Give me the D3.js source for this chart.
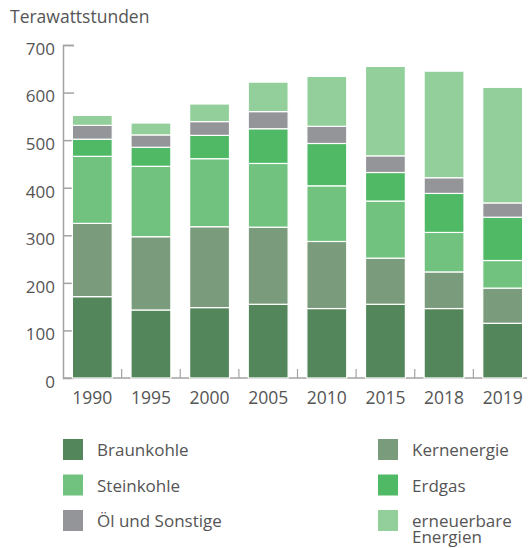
<!DOCTYPE html>
<html>
<head>
<meta charset="utf-8">
<script src="https://cdn.jsdelivr.net/npm/d3@7"></script>
<style>
  body { margin: 0; background: #fff; }
  svg text { font-family: "Open Sans", sans-serif; fill: #555; }
</style>
</head>
<body>
<div id="chart"></div>
<script>
// Bruttostromerzeugung in TWh
const years = ['1990', '1995', '2000', '2005', '2010', '2015', '2018', '2019'];
const braunkohle = [171, 143, 148, 155, 146, 155, 146, 115];
const kernenergie = [154, 154, 170, 162, 141, 97, 77, 74];
const steinkohle = [141, 148, 143, 134, 117, 120, 83, 58];
const erdgas = [36, 40, 49, 73, 89, 60, 82, 91];
const oelSonstige = [29, 26, 29, 36, 36, 35, 33, 30];
const erneuerbare = [21, 25, 37, 62, 105, 188, 224, 243];
const yTicks = [0, 100, 200, 300, 400, 500, 600, 700];

const series = [
  {key: 'braunkohle', name: 'Braunkohle', values: braunkohle, color: '#53875b'},
  {key: 'kernenergie', name: 'Kernenergie', values: kernenergie, color: '#7b9c7c'},
  {key: 'steinkohle', name: 'Steinkohle', values: steinkohle, color: '#70c27e'},
  {key: 'erdgas', name: 'Erdgas', values: erdgas, color: '#50b966'},
  {key: 'oel', name: 'Öl und Sonstige', values: oelSonstige, color: '#939598'},
  {key: 'ee', name: ['erneuerbare', 'Energien'], values: erneuerbare, color: '#92cf9a'}
];

const totalWidth = 528, totalHeight = 548;
const margins = {left: 63, right: -4, top: 45, bottom: 170};

const svg = d3.select('#chart').append('svg')
  .attr('width', totalWidth)
  .attr('height', totalHeight);

const table = years.map((y, i) => {
  let row = {year: y};
  series.forEach(s => { row[s.key] = s.values[i]; });
  return row;
});
const stacked = d3.stack().keys(series.map(s => s.key))(table);

const x = d3.scaleBand()
  .domain(years)
  .range([margins.left, totalWidth - margins.right])
  .paddingInner(0.32)
  .paddingOuter(0.16);
const y = d3.scaleLinear()
  .domain([0, 700])
  .range([totalHeight - margins.bottom, margins.top]);

// unit label
svg.append('text')
  .attr('x', 10)
  .attr('y', 23)
  .style('font-size', '17.5px')
  .text('Terawattstunden');

// y axis
const yAxis = svg.append('g')
  .attr('transform', 'translate(' + [margins.left, 0] + ')')
  .call(d3.axisRight(y).tickValues(yTicks).tickSize(11).tickFormat(d3.format('d')));
yAxis.select('.domain').attr('stroke', '#a3a3a3').attr('stroke-width', 1.5);
yAxis.selectAll('.tick line').attr('stroke', '#a3a3a3').attr('stroke-width', 1.5);
yAxis.selectAll('.tick text')
  .attr('x', -8)
  .attr('dy', '0.55em')
  .attr('text-anchor', 'end')
  .style('font-size', '17px');
yAxis.selectAll('.tick').filter(d => d === 0).select('line').remove();

// x baseline with ticks between the bars
const base = svg.append('g').attr('class', 'x-base');
base.append('line')
  .attr('x1', margins.left)
  .attr('x2', totalWidth - 1)
  .attr('y1', y(0))
  .attr('y2', y(0))
  .attr('stroke', '#a3a3a3')
  .attr('stroke-width', 1.5);
base.selectAll('line.sep')
  .data(years.slice(1))
  .enter()
  .append('line')
  .attr('class', 'sep')
  .attr('x1', d => x(d) - x.step() * x.paddingInner() / 2)
  .attr('x2', d => x(d) - x.step() * x.paddingInner() / 2)
  .attr('y1', y(0))
  .attr('y2', y(0) - 9)
  .attr('stroke', '#a3a3a3')
  .attr('stroke-width', 1.2);

// bars
const layers = svg.append('g').attr('class', 'bars')
  .selectAll('g.layer')
  .data(stacked)
  .enter()
  .append('g')
  .attr('class', 'layer')
  .style('fill', (d, i) => series[i].color);

layers.selectAll('rect')
  .data(d => d)
  .enter()
  .append('rect')
  .attr('x', d => x(d.data.year))
  .attr('width', x.bandwidth())
  .attr('y', d => y(d[1]))
  .attr('height', d => y(d[0]) - y(d[1]))
  .attr('stroke', '#fff')
  .attr('stroke-width', 1.2);

// x labels
svg.append('g').selectAll('text')
  .data(years)
  .enter()
  .append('text')
  .attr('x', d => x(d) + x.bandwidth() / 2)
  .attr('y', 404)
  .attr('text-anchor', 'middle')
  .style('font-size', '17.5px')
  .text(d => d);

// legend
const legendOrder = ['braunkohle', 'steinkohle', 'oel', 'kernenergie', 'erdgas', 'ee'];
const legend = svg.append('g').attr('class', 'legend')
  .selectAll('g.item')
  .data(legendOrder.map(k => series.find(s => s.key === k)))
  .enter()
  .append('g')
  .attr('class', 'item')
  .attr('transform', (d, i) => 'translate(' + [i < 3 ? 63 : 378, 439 + (i % 3) * 35.5] + ')');

legend.append('rect')
  .attr('width', 20)
  .attr('height', 21)
  .style('fill', d => d.color);

legend.append('text')
  .attr('x', 34)
  .attr('y', 17)
  .style('font-size', '17px')
  .each(function(d) {
    const lines = Array.isArray(d.name) ? d.name : [d.name];
    d3.select(this).selectAll('tspan')
      .data(lines)
      .enter()
      .append('tspan')
      .attr('x', 34)
      .attr('dy', (l, j) => j === 0 ? 0 : 16)
      .text(l => l);
  });
</script>
</body>
</html>
